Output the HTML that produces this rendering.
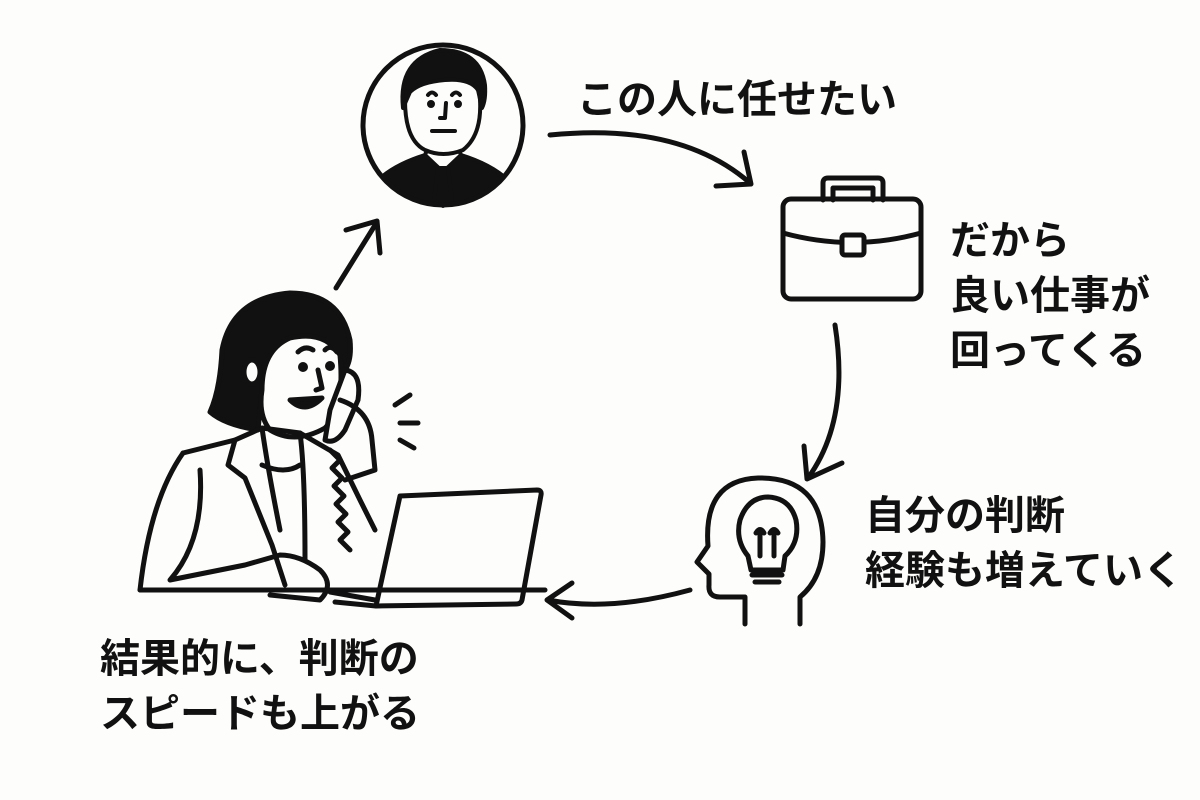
<!DOCTYPE html>
<html><head><meta charset="utf-8"><style>
html,body{margin:0;padding:0;background:#fdfdfb;}
svg{display:block}
text{font-family:"Liberation Sans","Noto Sans CJK JP",sans-serif;font-weight:bold;fill:#111;font-size:40px}
</style></head><body>
<svg width="1200" height="800" viewBox="0 0 1200 800" xmlns="http://www.w3.org/2000/svg">
<defs><clipPath id="c"><circle cx="443" cy="125" r="78"/></clipPath></defs>
<rect width="1200" height="800" fill="#fdfdfb"/>
<g fill="none" stroke="#111" stroke-width="5" stroke-linecap="round" stroke-linejoin="round">
<path d="M550,135 Q680,122 750,183"/><path d="M744,152 L751,184 L716,186"/>
<path d="M835,325 Q850,420 808,478"/><path d="M804,446 L807,479 L842,463"/>
<path d="M690,590 Q610,612 548,600"/><path d="M572,583 L547,600 L572,618"/>
<path d="M336,288 L377,222"/><path d="M346,230 L377,221 L380,253"/>
<path d="M823,200 V183 Q823,178 828,178 H878 Q883,178 883,183 V200"/>
<path d="M833,200 V188 H873 V200"/>
<rect x="783" y="199" width="138" height="100" rx="8"/>
<path d="M783,233 Q852,252 921,233"/>
<rect x="842" y="235" width="22" height="20" rx="3" fill="#fdfdfb"/>
<path d="M745,624 V597 H720 Q708,597 709,585 V574 L697,562 L708,546 Q703,480 758,478 Q822,477 823,542 Q823,578 800,597 V624"/>
<path d="M748,556 Q735,540 740,520 Q748,497 768,497 Q790,498 796,520 Q800,542 785,556 L783,570 H751 Z"/>
<path d="M752,575 H782 M755,582 H779"/>
<path d="M760,556 V534 M774,556 V534 M756,533 Q760,526 764,533 M770,533 Q774,526 778,533"/>
<path d="M140,590 H545"/>
<path d="M400,496 L537,490 Q542,490 541,495 L522,600 Q521,604 516,604 L376,606 Z"/>
<path d="M330,592 L375,600 M335,602 L376,606"/>
</g>
<!-- woman -->
<g stroke="#111" stroke-width="5" stroke-linecap="round" stroke-linejoin="round" fill="none">
<path d="M258,430 Q225,425 210,412 Q220,390 222,350 Q232,298 290,293 Q340,293 350,340 Q352,360 345,370 L335,350 Q320,330 290,340 Q265,350 262,390 Z" fill="#111"/>
<path d="M262,390 Q262,350 290,338 Q325,330 340,355 Q345,410 325,428 Q295,445 270,430 Q258,415 262,390 Z" fill="#fdfdfb"/>
<ellipse cx="252" cy="372" rx="8" ry="12" fill="#fdfdfb"/>
<path d="M298,352 Q305,345 313,350 M325,350 Q331,344 337,352"/>
<path d="M318,370 L322,388 L316,390"/>
<path d="M290,400 Q305,415 322,398 Z" fill="#111"/>
<circle cx="303" cy="367" r="2.5" fill="#111"/><circle cx="330" cy="366" r="2.5" fill="#111"/>
<path d="M183,453 L235,440 L262,428 L300,433 L338,455 L360,500 L375,530"/>
<path d="M183,453 Q150,500 140,590"/>
<path d="M235,440 L228,465 L245,478 L272,545 L285,585"/>
<path d="M262,428 Q268,470 280,530 M300,433 Q305,470 305,560"/>
<path d="M262,465 Q285,475 300,465"/>
<path d="M200,470 Q205,540 170,580 L245,565 L280,555 Q300,555 320,570 Q335,585 320,600 L270,595"/>
<path d="M330,450 l10,10 -8,8 10,10 -8,8 10,10 -8,8 10,10 -8,8 10,10 -8,8 10,10"/>
<path d="M345,370 Q362,372 358,400 L345,430 Q335,445 325,440 L330,410 Z" fill="#fdfdfb"/>
<path d="M340,400 Q370,410 372,440 L375,470 L345,480"/>
<path d="M395,405 L410,395 M400,423 L418,423 M400,440 L414,448"/>
</g>
<!-- man -->
<g stroke="#111" stroke-width="4" stroke-linecap="round" stroke-linejoin="round">
<g clip-path="url(#c)">
<path d="M360,210 Q370,172 425,155 L443,172 L461,155 Q516,172 526,210 Z" fill="#111"/>
</g>
<path d="M425,155 L443,172 L461,155 L457,145 H429 Z" fill="#fdfdfb"/>
<path d="M438,168 L448,168 L452,200 L443,206 L434,200 Z" fill="#111"/>
<path d="M405,100 Q405,140 425,150 Q443,158 463,150 Q482,135 480,100 Q480,75 443,75 Q405,75 405,100 Z" fill="#fdfdfb"/>
<path d="M403,108 Q398,60 440,50 Q480,50 485,85 Q486,100 482,108 L478,90 Q470,78 445,80 Q420,82 410,92 Z" fill="#111"/>
<path d="M428,95 Q432,90 436,95 M452,95 Q456,90 460,95 M446,103 L445,118 H440 M432,131 H455" fill="none"/>
<circle cx="431" cy="104" r="2" fill="#111"/><circle cx="458" cy="104" r="2" fill="#111"/>
</g>
<circle cx="443" cy="125" r="80" fill="none" stroke="#111" stroke-width="5"/>
<text x="577" y="113">この人に任せたい</text>
<text x="950" y="254">だから</text>
<text x="950" y="309">良い仕事が</text>
<text x="950" y="364">回ってくる</text>
<text x="865" y="529">自分の判断</text>
<text x="865" y="584">経験も増えていく</text>
<text x="100" y="672">結果的に、判断の</text>
<text x="100" y="727">スピードも上がる</text>
</svg>
</body></html>
